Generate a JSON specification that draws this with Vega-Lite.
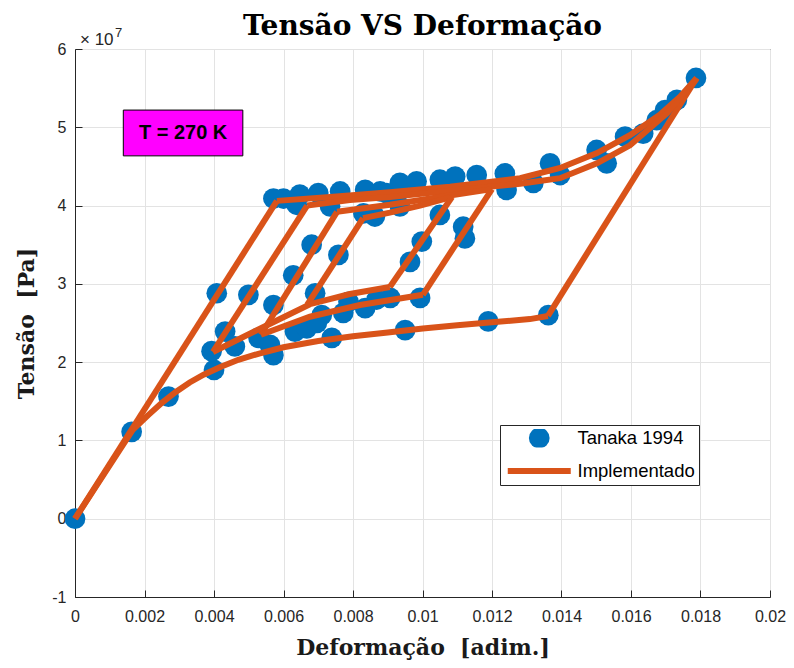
{
  "$schema": "https://vega.github.io/schema/vega-lite/v6.json",
  "width": 695,
  "height": 548,
  "autosize": {"type": "none"},
  "padding": {"left": 75, "top": 49, "right": 24, "bottom": 71},
  "background": "white",
  "config": {
    "view": {"stroke": "#262626", "strokeWidth": 1},
    "axis": {
      "domainColor": "#262626",
      "tickColor": "#262626",
      "gridColor": "#e3e3e3",
      "gridWidth": 1,
      "labelFont": "Liberation Sans",
      "labelFontSize": 16,
      "labelColor": "#262626",
      "labelFlush": false,
      "titleFont": "DejaVu Serif",
      "titleFontWeight": "bold",
      "titleFontSize": 22,
      "titleColor": "#1a1a1a",
      "tickSize": -7
    },
    "legend": {
      "title": null,
      "orient": "none",
      "legendX": 425,
      "legendY": 376,
      "direction": "vertical",
      "columns": 1,
      "clipHeight": 18,
      "rowPadding": 14,
      "padding": 4,
      "strokeColor": "#262626",
      "fillColor": "white",
      "labelFont": "Liberation Sans",
      "labelFontSize": 18.5,
      "labelColor": "black",
      "labelOffset": 29,
      "symbolOffset": 26
    }
  },
  "title": {
    "text": "Tensão VS Deformação",
    "font": "DejaVu Serif",
    "fontSize": 28,
    "fontWeight": "bold",
    "color": "black",
    "anchor": "middle",
    "offset": 5,
    "dy": 19
  },
  "datasets": {
    "tanaka": [
      {"deformacao": 0, "tensao": 0, "serie": "Tanaka 1994"},
      {"deformacao": 0.00163, "tensao": 1.11e7, "serie": "Tanaka 1994"},
      {"deformacao": 0.00269, "tensao": 1.56e7, "serie": "Tanaka 1994"},
      {"deformacao": 0.00400, "tensao": 1.90e7, "serie": "Tanaka 1994"},
      {"deformacao": 0.00393, "tensao": 2.14e7, "serie": "Tanaka 1994"},
      {"deformacao": 0.00408, "tensao": 2.88e7, "serie": "Tanaka 1994"},
      {"deformacao": 0.00499, "tensao": 2.86e7, "serie": "Tanaka 1994"},
      {"deformacao": 0.00432, "tensao": 2.39e7, "serie": "Tanaka 1994"},
      {"deformacao": 0.00460, "tensao": 2.20e7, "serie": "Tanaka 1994"},
      {"deformacao": 0.00528, "tensao": 2.31e7, "serie": "Tanaka 1994"},
      {"deformacao": 0.00561, "tensao": 2.22e7, "serie": "Tanaka 1994"},
      {"deformacao": 0.00571, "tensao": 2.09e7, "serie": "Tanaka 1994"},
      {"deformacao": 0.00571, "tensao": 2.73e7, "serie": "Tanaka 1994"},
      {"deformacao": 0.00628, "tensao": 3.11e7, "serie": "Tanaka 1994"},
      {"deformacao": 0.00633, "tensao": 2.39e7, "serie": "Tanaka 1994"},
      {"deformacao": 0.00667, "tensao": 2.43e7, "serie": "Tanaka 1994"},
      {"deformacao": 0.00691, "tensao": 2.88e7, "serie": "Tanaka 1994"},
      {"deformacao": 0.00710, "tensao": 2.60e7, "serie": "Tanaka 1994"},
      {"deformacao": 0.00696, "tensao": 2.50e7, "serie": "Tanaka 1994"},
      {"deformacao": 0.00739, "tensao": 2.31e7, "serie": "Tanaka 1994"},
      {"deformacao": 0.00772, "tensao": 2.63e7, "serie": "Tanaka 1994"},
      {"deformacao": 0.00787, "tensao": 2.77e7, "serie": "Tanaka 1994"},
      {"deformacao": 0.00835, "tensao": 2.69e7, "serie": "Tanaka 1994"},
      {"deformacao": 0.00868, "tensao": 2.80e7, "serie": "Tanaka 1994"},
      {"deformacao": 0.00907, "tensao": 2.82e7, "serie": "Tanaka 1994"},
      {"deformacao": 0.00993, "tensao": 2.82e7, "serie": "Tanaka 1994"},
      {"deformacao": 0.00950, "tensao": 2.41e7, "serie": "Tanaka 1994"},
      {"deformacao": 0.01189, "tensao": 2.52e7, "serie": "Tanaka 1994"},
      {"deformacao": 0.01362, "tensao": 2.60e7, "serie": "Tanaka 1994"},
      {"deformacao": 0.00681, "tensao": 3.50e7, "serie": "Tanaka 1994"},
      {"deformacao": 0.00758, "tensao": 3.37e7, "serie": "Tanaka 1994"},
      {"deformacao": 0.00964, "tensao": 3.28e7, "serie": "Tanaka 1994"},
      {"deformacao": 0.00998, "tensao": 3.54e7, "serie": "Tanaka 1994"},
      {"deformacao": 0.01117, "tensao": 3.73e7, "serie": "Tanaka 1994"},
      {"deformacao": 0.01122, "tensao": 3.58e7, "serie": "Tanaka 1994"},
      {"deformacao": 0.00571, "tensao": 4.09e7, "serie": "Tanaka 1994"},
      {"deformacao": 0.00600, "tensao": 4.09e7, "serie": "Tanaka 1994"},
      {"deformacao": 0.00647, "tensao": 4.14e7, "serie": "Tanaka 1994"},
      {"deformacao": 0.00638, "tensao": 4.01e7, "serie": "Tanaka 1994"},
      {"deformacao": 0.00700, "tensao": 4.16e7, "serie": "Tanaka 1994"},
      {"deformacao": 0.00734, "tensao": 3.99e7, "serie": "Tanaka 1994"},
      {"deformacao": 0.00763, "tensao": 4.18e7, "serie": "Tanaka 1994"},
      {"deformacao": 0.00835, "tensao": 4.20e7, "serie": "Tanaka 1994"},
      {"deformacao": 0.00830, "tensao": 3.90e7, "serie": "Tanaka 1994"},
      {"deformacao": 0.00878, "tensao": 4.18e7, "serie": "Tanaka 1994"},
      {"deformacao": 0.00863, "tensao": 3.86e7, "serie": "Tanaka 1994"},
      {"deformacao": 0.00897, "tensao": 4.16e7, "serie": "Tanaka 1994"},
      {"deformacao": 0.00935, "tensao": 4.29e7, "serie": "Tanaka 1994"},
      {"deformacao": 0.00983, "tensao": 4.31e7, "serie": "Tanaka 1994"},
      {"deformacao": 0.01050, "tensao": 4.33e7, "serie": "Tanaka 1994"},
      {"deformacao": 0.01094, "tensao": 4.37e7, "serie": "Tanaka 1994"},
      {"deformacao": 0.01156, "tensao": 4.39e7, "serie": "Tanaka 1994"},
      {"deformacao": 0.01237, "tensao": 4.41e7, "serie": "Tanaka 1994"},
      {"deformacao": 0.01242, "tensao": 4.20e7, "serie": "Tanaka 1994"},
      {"deformacao": 0.00935, "tensao": 3.99e7, "serie": "Tanaka 1994"},
      {"deformacao": 0.01050, "tensao": 3.88e7, "serie": "Tanaka 1994"},
      {"deformacao": 0.01319, "tensao": 4.29e7, "serie": "Tanaka 1994"},
      {"deformacao": 0.01367, "tensao": 4.54e7, "serie": "Tanaka 1994"},
      {"deformacao": 0.01396, "tensao": 4.39e7, "serie": "Tanaka 1994"},
      {"deformacao": 0.01501, "tensao": 4.71e7, "serie": "Tanaka 1994"},
      {"deformacao": 0.01530, "tensao": 4.54e7, "serie": "Tanaka 1994"},
      {"deformacao": 0.01583, "tensao": 4.88e7, "serie": "Tanaka 1994"},
      {"deformacao": 0.01635, "tensao": 4.92e7, "serie": "Tanaka 1994"},
      {"deformacao": 0.01674, "tensao": 5.09e7, "serie": "Tanaka 1994"},
      {"deformacao": 0.01698, "tensao": 5.22e7, "serie": "Tanaka 1994"},
      {"deformacao": 0.01732, "tensao": 5.35e7, "serie": "Tanaka 1994"},
      {"deformacao": 0.01787, "tensao": 5.63e7, "serie": "Tanaka 1994"}
    ],
    "impl": [
      {"seg": 1, "i": 1, "deformacao": 0, "tensao": 0, "serie": "Implementado"},
      {"seg": 1, "i": 2, "deformacao": 0.00581, "tensao": 4.06e7, "serie": "Implementado"},
      {"seg": 2, "i": 1, "deformacao": 0.00581, "tensao": 4.06e7, "serie": "Implementado"},
      {"seg": 2, "i": 2, "deformacao": 0.00734, "tensao": 4.11e7, "serie": "Implementado"},
      {"seg": 2, "i": 3, "deformacao": 0.00906, "tensao": 4.17e7, "serie": "Implementado"},
      {"seg": 2, "i": 4, "deformacao": 0.01079, "tensao": 4.24e7, "serie": "Implementado"},
      {"seg": 2, "i": 5, "deformacao": 0.01281, "tensao": 4.35e7, "serie": "Implementado"},
      {"seg": 2, "i": 6, "deformacao": 0.01396, "tensao": 4.48e7, "serie": "Implementado"},
      {"seg": 2, "i": 7, "deformacao": 0.01502, "tensao": 4.67e7, "serie": "Implementado"},
      {"seg": 2, "i": 8, "deformacao": 0.01597, "tensao": 4.90e7, "serie": "Implementado"},
      {"seg": 2, "i": 9, "deformacao": 0.01683, "tensao": 5.16e7, "serie": "Implementado"},
      {"seg": 2, "i": 10, "deformacao": 0.01741, "tensao": 5.39e7, "serie": "Implementado"},
      {"seg": 2, "i": 11, "deformacao": 0.01789, "tensao": 5.63e7, "serie": "Implementado"},
      {"seg": 3, "i": 1, "deformacao": 0.01789, "tensao": 5.63e7, "serie": "Implementado"},
      {"seg": 3, "i": 2, "deformacao": 0.01361, "tensao": 2.59e7, "serie": "Implementado"},
      {"seg": 4, "i": 1, "deformacao": 0.01361, "tensao": 2.59e7, "serie": "Implementado"},
      {"seg": 4, "i": 2, "deformacao": 0.01309, "tensao": 2.55e7, "serie": "Implementado"},
      {"seg": 4, "i": 3, "deformacao": 0.01200, "tensao": 2.51e7, "serie": "Implementado"},
      {"seg": 4, "i": 4, "deformacao": 0.01100, "tensao": 2.47e7, "serie": "Implementado"},
      {"seg": 4, "i": 5, "deformacao": 0.01001, "tensao": 2.43e7, "serie": "Implementado"},
      {"seg": 4, "i": 6, "deformacao": 0.00900, "tensao": 2.38e7, "serie": "Implementado"},
      {"seg": 4, "i": 7, "deformacao": 0.00800, "tensao": 2.33e7, "serie": "Implementado"},
      {"seg": 4, "i": 8, "deformacao": 0.00700, "tensao": 2.27e7, "serie": "Implementado"},
      {"seg": 4, "i": 9, "deformacao": 0.00600, "tensao": 2.19e7, "serie": "Implementado"},
      {"seg": 4, "i": 10, "deformacao": 0.00530, "tensao": 2.11e7, "serie": "Implementado"},
      {"seg": 4, "i": 11, "deformacao": 0.00470, "tensao": 2.03e7, "serie": "Implementado"},
      {"seg": 4, "i": 12, "deformacao": 0.00420, "tensao": 1.94e7, "serie": "Implementado"},
      {"seg": 4, "i": 13, "deformacao": 0.00370, "tensao": 1.84e7, "serie": "Implementado"},
      {"seg": 4, "i": 14, "deformacao": 0.00330, "tensao": 1.74e7, "serie": "Implementado"},
      {"seg": 4, "i": 15, "deformacao": 0.00290, "tensao": 1.62e7, "serie": "Implementado"},
      {"seg": 4, "i": 16, "deformacao": 0.00250, "tensao": 1.48e7, "serie": "Implementado"},
      {"seg": 4, "i": 17, "deformacao": 0.00210, "tensao": 1.32e7, "serie": "Implementado"},
      {"seg": 4, "i": 18, "deformacao": 0.00167, "tensao": 1.14e7, "serie": "Implementado"},
      {"seg": 4, "i": 19, "deformacao": 0, "tensao": 0, "serie": "Implementado"},
      {"seg": 5, "i": 1, "deformacao": 0.00397, "tensao": 2.13e7, "serie": "Implementado"},
      {"seg": 5, "i": 2, "deformacao": 0.00668, "tensao": 4.00e7, "serie": "Implementado"},
      {"seg": 6, "i": 1, "deformacao": 0.00668, "tensao": 4.00e7, "serie": "Implementado"},
      {"seg": 6, "i": 2, "deformacao": 0.00791, "tensao": 4.07e7, "serie": "Implementado"},
      {"seg": 6, "i": 3, "deformacao": 0.00906, "tensao": 4.11e7, "serie": "Implementado"},
      {"seg": 6, "i": 4, "deformacao": 0.01079, "tensao": 4.19e7, "serie": "Implementado"},
      {"seg": 6, "i": 5, "deformacao": 0.01281, "tensao": 4.28e7, "serie": "Implementado"},
      {"seg": 6, "i": 6, "deformacao": 0.01396, "tensao": 4.35e7, "serie": "Implementado"},
      {"seg": 6, "i": 7, "deformacao": 0.01502, "tensao": 4.54e7, "serie": "Implementado"},
      {"seg": 6, "i": 8, "deformacao": 0.01597, "tensao": 4.77e7, "serie": "Implementado"},
      {"seg": 6, "i": 9, "deformacao": 0.01704, "tensao": 5.18e7, "serie": "Implementado"},
      {"seg": 6, "i": 10, "deformacao": 0.01789, "tensao": 5.62e7, "serie": "Implementado"},
      {"seg": 7, "i": 1, "deformacao": 0.00535, "tensao": 2.35e7, "serie": "Implementado"},
      {"seg": 7, "i": 2, "deformacao": 0.00754, "tensao": 3.92e7, "serie": "Implementado"},
      {"seg": 8, "i": 1, "deformacao": 0.00754, "tensao": 3.92e7, "serie": "Implementado"},
      {"seg": 8, "i": 2, "deformacao": 0.00906, "tensao": 4.01e7, "serie": "Implementado"},
      {"seg": 8, "i": 3, "deformacao": 0.01050, "tensao": 4.11e7, "serie": "Implementado"},
      {"seg": 8, "i": 4, "deformacao": 0.01200, "tensao": 4.21e7, "serie": "Implementado"},
      {"seg": 9, "i": 1, "deformacao": 0.00668, "tensao": 2.73e7, "serie": "Implementado"},
      {"seg": 9, "i": 2, "deformacao": 0.00829, "tensao": 3.84e7, "serie": "Implementado"},
      {"seg": 10, "i": 1, "deformacao": 0.00829, "tensao": 3.84e7, "serie": "Implementado"},
      {"seg": 10, "i": 2, "deformacao": 0.00906, "tensao": 3.91e7, "serie": "Implementado"},
      {"seg": 10, "i": 3, "deformacao": 0.00993, "tensao": 4.00e7, "serie": "Implementado"},
      {"seg": 10, "i": 4, "deformacao": 0.01085, "tensao": 4.11e7, "serie": "Implementado"},
      {"seg": 11, "i": 1, "deformacao": 0.01085, "tensao": 4.11e7, "serie": "Implementado"},
      {"seg": 11, "i": 2, "deformacao": 0.00906, "tensao": 2.96e7, "serie": "Implementado"},
      {"seg": 12, "i": 1, "deformacao": 0.01200, "tensao": 4.21e7, "serie": "Implementado"},
      {"seg": 12, "i": 2, "deformacao": 0.01001, "tensao": 2.86e7, "serie": "Implementado"},
      {"seg": 13, "i": 1, "deformacao": 0.00397, "tensao": 2.13e7, "serie": "Implementado"},
      {"seg": 13, "i": 2, "deformacao": 0.00538, "tensao": 2.44e7, "serie": "Implementado"},
      {"seg": 13, "i": 3, "deformacao": 0.00676, "tensao": 2.74e7, "serie": "Implementado"},
      {"seg": 13, "i": 4, "deformacao": 0.00791, "tensao": 2.87e7, "serie": "Implementado"},
      {"seg": 13, "i": 5, "deformacao": 0.00906, "tensao": 2.96e7, "serie": "Implementado"},
      {"seg": 14, "i": 1, "deformacao": 0.00535, "tensao": 2.35e7, "serie": "Implementado"},
      {"seg": 14, "i": 2, "deformacao": 0.00676, "tensao": 2.58e7, "serie": "Implementado"},
      {"seg": 14, "i": 3, "deformacao": 0.00820, "tensao": 2.73e7, "serie": "Implementado"},
      {"seg": 14, "i": 4, "deformacao": 0.01001, "tensao": 2.86e7, "serie": "Implementado"}
    ]
  },
  "layer": [
    {
      "data": {"name": "tanaka"},
      "mark": {"type": "point", "filled": true, "size": 430, "opacity": 1, "strokeWidth": 0},
      "encoding": {
        "x": {
          "field": "deformacao",
          "type": "quantitative",
          "scale": {"domain": [0, 0.02], "nice": false, "zero": false},
          "axis": {
            "title": "Deformação\u00a0 [adim.]",
            "values": [0, 0.002, 0.004, 0.006, 0.008, 0.01, 0.012, 0.014, 0.016, 0.018, 0.02],
            "format": "~g",
            "labelPadding": 18,
            "titlePadding": 13,
            "grid": true
          }
        },
        "y": {
          "field": "tensao",
          "type": "quantitative",
          "scale": {"domain": [-10000000, 60000000], "nice": false, "zero": false},
          "axis": {
            "title": "Tensão\u00a0 [Pa]",
            "values": [-10000000, 0, 10000000, 20000000, 30000000, 40000000, 50000000, 60000000],
            "labelExpr": "'' + round(datum.value / 10000000)",
            "labelPadding": 16,
            "titlePadding": 13,
            "grid": true
          }
        },
        "color": {
          "field": "serie",
          "type": "nominal",
          "scale": {"domain": ["Tanaka 1994", "Implementado"], "range": ["#0072BD", "#D95319"]},
          "legend": {
            "encode": {
              "symbols": {
                "update": {
                  "shape": {"signal": "datum.value === 'Tanaka 1994' ? 'circle' : 'stroke'"},
                  "size": {"signal": "datum.value === 'Tanaka 1994' ? 430 : 3969"},
                  "strokeWidth": {"signal": "datum.value === 'Tanaka 1994' ? 0 : 6"},
                  "fill": {"signal": "datum.value === 'Tanaka 1994' ? '#0072BD' : 'transparent'"},
                  "stroke": {"signal": "datum.value === 'Tanaka 1994' ? '#0072BD' : '#D95319'"},
                  "opacity": {"value": 1}
                }
              },
              "labels": {
                "update": {
                  "fontSize": {"value": 18.5},
                  "font": {"value": "Liberation Sans"},
                  "fill": {"value": "black"}
                }
              }
            }
          }
        }
      }
    },
    {
      "data": {"name": "impl"},
      "mark": {"type": "line", "strokeWidth": 6},
      "encoding": {
        "x": {
          "field": "deformacao",
          "type": "quantitative",
          "scale": {"domain": [0, 0.02], "nice": false, "zero": false},
          "axis": {
            "title": "Deformação\u00a0 [adim.]",
            "values": [0, 0.002, 0.004, 0.006, 0.008, 0.01, 0.012, 0.014, 0.016, 0.018, 0.02],
            "format": "~g",
            "labelPadding": 18,
            "titlePadding": 13,
            "grid": true
          }
        },
        "y": {
          "field": "tensao",
          "type": "quantitative",
          "scale": {"domain": [-10000000, 60000000], "nice": false, "zero": false},
          "axis": {
            "title": "Tensão\u00a0 [Pa]",
            "values": [-10000000, 0, 10000000, 20000000, 30000000, 40000000, 50000000, 60000000],
            "labelExpr": "'' + round(datum.value / 10000000)",
            "labelPadding": 16,
            "titlePadding": 13,
            "grid": true
          }
        },
        "detail": {"field": "seg", "type": "nominal"},
        "order": {"field": "i", "type": "quantitative"},
        "color": {
          "field": "serie",
          "type": "nominal",
          "scale": {"domain": ["Tanaka 1994", "Implementado"], "range": ["#0072BD", "#D95319"]},
          "legend": {
            "encode": {
              "symbols": {
                "update": {
                  "shape": {"signal": "datum.value === 'Tanaka 1994' ? 'circle' : 'stroke'"},
                  "size": {"signal": "datum.value === 'Tanaka 1994' ? 430 : 3969"},
                  "strokeWidth": {"signal": "datum.value === 'Tanaka 1994' ? 0 : 6"},
                  "fill": {"signal": "datum.value === 'Tanaka 1994' ? '#0072BD' : 'transparent'"},
                  "stroke": {"signal": "datum.value === 'Tanaka 1994' ? '#0072BD' : '#D95319'"},
                  "opacity": {"value": 1}
                }
              },
              "labels": {
                "update": {
                  "fontSize": {"value": 18.5},
                  "font": {"value": "Liberation Sans"},
                  "fill": {"value": "black"}
                }
              }
            }
          }
        }
      }
    },
    {
      "data": {"values": [{}]},
      "mark": {"type": "rect", "fill": "#FF00FF", "stroke": "black", "strokeWidth": 1},
      "encoding": {
        "x": {"datum": 0.00139, "type": "quantitative"},
        "x2": {"datum": 0.00483},
        "y": {"datum": 52200000, "type": "quantitative"},
        "y2": {"datum": 46350000}
      }
    },
    {
      "data": {"values": [{}]},
      "mark": {"type": "text", "text": "T = 270 K", "font": "Liberation Sans", "fontSize": 20, "fontWeight": "bold", "color": "black", "align": "center", "baseline": "middle"},
      "encoding": {
        "x": {"datum": 0.00311, "type": "quantitative"},
        "y": {"datum": 49300000, "type": "quantitative"}
      }
    },
    {
      "data": {"values": [{}]},
      "mark": {"type": "text", "text": "× 10", "font": "Liberation Sans", "fontSize": 17, "color": "#262626", "align": "left", "baseline": "alphabetic", "dx": 5, "dy": -4},
      "encoding": {
        "x": {"datum": 0, "type": "quantitative"},
        "y": {"datum": 60000000, "type": "quantitative"}
      }
    },
    {
      "data": {"values": [{}]},
      "mark": {"type": "text", "text": "7", "font": "Liberation Sans", "fontSize": 13, "color": "#262626", "align": "left", "baseline": "alphabetic", "dx": 40, "dy": -12},
      "encoding": {
        "x": {"datum": 0, "type": "quantitative"},
        "y": {"datum": 60000000, "type": "quantitative"}
      }
    }
  ]
}
